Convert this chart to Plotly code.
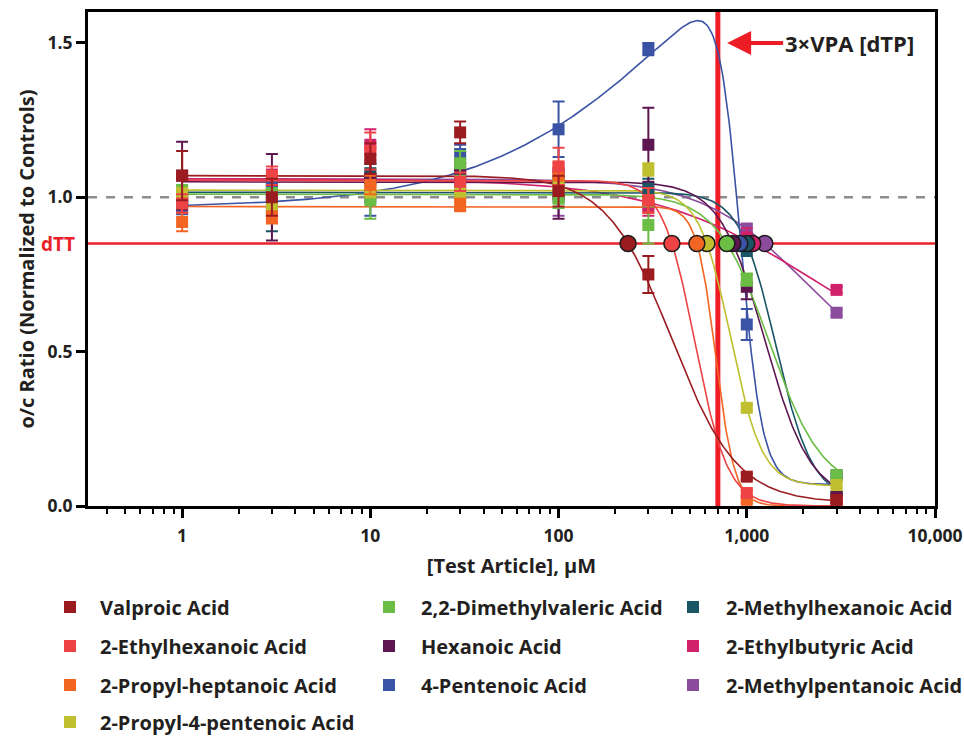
import numpy as np
import plotly.graph_objects as go

# ---------------- data ----------------
conc = [1, 3, 10, 30, 100, 300, 1000, 3000]

names = ["Valproic Acid", "2-Ethylhexanoic Acid", "2-Propyl-heptanoic Acid",
         "2-Propyl-4-pentenoic Acid", "2,2-Dimethylvaleric Acid", "Hexanoic Acid",
         "4-Pentenoic Acid", "2-Methylhexanoic Acid", "2-Ethylbutyric Acid",
         "2-Methylpentanoic Acid"]
colors = ["#9B1C20", "#EE4344", "#F26522", "#BFBF30", "#6BBD45", "#5E1650",
          "#3A53A4", "#1A5566", "#D2216B", "#8B4C9D"]

valproic = [1.07, 1.00, 1.125, 1.21, 1.02, 0.75, 0.095, 0.02]
ethylhexanoic = [0.98, 1.07, 1.15, 1.05, 1.10, 0.99, 0.042, 0.005]
propylheptanoic = [0.92, 0.935, 1.04, 0.975, 1.07, 0.99, 0.02, 0.01]
propylpentenoic = [1.01, 0.965, 1.02, 1.01, 1.04, 1.09, 0.318, 0.068]
dimethylvaleric = [1.02, 1.01, 0.99, 1.11, 0.995, 0.91, 0.733, 0.10]
hexanoic = [1.07, 1.00, 1.06, 1.08, 1.01, 1.17, 0.71, 0.03]
pentenoic = [0.965, 1.03, 1.00, 1.14, 1.22, 1.48, 0.588, 0.10]
methylhexanoic = [0.99, 0.97, 1.078, 1.035, 1.05, 1.03, 0.83, 0.03]
ethylbutyric = [1.00, 1.06, 1.17, 1.09, 1.08, 0.97, 0.87, 0.70]
methylpentanoic = [1.00, 1.02, 1.05, 1.06, 1.00, 0.99, 0.895, 0.626]

valproic_sd = [0.08, 0.06, 0.05, 0.035, 0.05, 0.06, 0.01, 0.01]
ethylhexanoic_sd = [0.03, 0.03, 0.06, 0.03, 0.06, 0.04, 0.01, 0.005]
propylheptanoic_sd = [0.03, 0.02, 0.03, 0.02, 0.03, 0.04, 0.01, 0.005]
propylpentenoic_sd = [0.02, 0.02, 0.02, 0.02, 0.02, 0.02, 0.01, 0.01]
dimethylvaleric_sd = [0.02, 0.02, 0.06, 0.04, 0.03, 0.06, 0.02, 0.01]
hexanoic_sd = [0.11, 0.14, 0.05, 0.03, 0.08, 0.12, 0.04, 0.01]
pentenoic_sd = [0.02, 0.03, 0.06, 0.03, 0.09, 0.02, 0.05, 0.005]
methylhexanoic_sd = [0.02, 0.08, 0.03, 0.03, 0.03, 0.03, 0.02, 0.01]
ethylbutyric_sd = [0.02, 0.03, 0.05, 0.03, 0.03, 0.03, 0.03, 0.01]
methylpentanoic_sd = [0.02, 0.02, 0.03, 0.03, 0.06, 0.03, 0.02, 0.01]

# concentration at which each fitted curve crosses the dTT level
dtt_conc = [234, 400, 543, 614, 784, 843, 918, 1000, 1075, 1247]

# four-parameter logistic fit parameters (top, bottom, Hill slope)
fit_top = [1.07, 1.055, 0.97, 1.023, 1.01, 1.05, None, 1.016, 1.06, 1.06]
fit_bottom = [0.01, 0.0, 0.0, 0.065, 0.05, 0.02, None, 0.02, 0.4, 0.4]
fit_hill = [2.5, 5.0, 8.5, 5.2, 3.1, 3.6, None, 4.5, 1.0, 1.6]
# bell-shaped fit for 4-Pentenoic Acid: plateau, peak, logEC50 rise, slope, logIC50 fall, slope, bottom
bell_params = [0.965, 2.2, 2.7, 0.8, 2.961, 7.5, 0.07]

DTT_LEVEL = 0.85
CONTROL_LEVEL = 1.0

series = [valproic, ethylhexanoic, propylheptanoic, propylpentenoic, dimethylvaleric,
          hexanoic, pentenoic, methylhexanoic, ethylbutyric, methylpentanoic]
series_sd = [valproic_sd, ethylhexanoic_sd, propylheptanoic_sd, propylpentenoic_sd,
             dimethylvaleric_sd, hexanoic_sd, pentenoic_sd, methylhexanoic_sd,
             ethylbutyric_sd, methylpentanoic_sd]
legend_column = [0, 0, 0, 0, 1, 1, 1, 2, 2, 2]
legend_row = [0, 1, 2, 3, 0, 1, 2, 0, 1, 2]


def four_pl(x, top, bottom, hill, x_dtt):
    k = (top - bottom) / (DTT_LEVEL - bottom) - 1
    ic50 = x_dtt / k ** (1 / hill)
    return bottom + (top - bottom) / (1 + (x / ic50) ** hill)


def bell(x, p1, peak, le1, h1, le2, h2, bottom):
    lx = np.log10(x)
    rise = p1 + (peak - p1) / (1 + 10 ** ((le1 - lx) * h1))
    fall = 1 / (1 + 10 ** ((lx - le2) * h2))
    return rise * fall + bottom * (1 - fall)


x_curve = np.logspace(0, np.log10(max(conc)), 500)

FONT = "Open Sans"
TXT = "#231F20"
RED = "#E8212A"

W, H = 964, 737
ML, MR, MT, MB = 88, 29, 12, 231
PW, PH = W - ML - MR, H - MT - MB


def px_to_paper_x(px):
    return (px - ML) / PW


def px_to_paper_y(py):
    return (H - MB - py) / PH


fig = go.Figure()
order = list(range(len(names)))[::-1]   # first series drawn last (on top)

# fitted curves
for i in order:
    if fit_top[i] is None:
        y_curve = bell(x_curve, *bell_params)
    else:
        y_curve = four_pl(x_curve, fit_top[i], fit_bottom[i], fit_hill[i], dtt_conc[i])
    fig.add_trace(go.Scatter(x=x_curve, y=y_curve, mode="lines",
                             line=dict(color=colors[i], width=1.6),
                             showlegend=False, hoverinfo="skip"))

# data points with error bars
for i in order:
    fig.add_trace(go.Scatter(
        x=conc, y=series[i], mode="markers", name=names[i],
        marker=dict(symbol="square", size=12, color=colors[i]),
        error_y=dict(type="data", array=series_sd[i], color=colors[i],
                     thickness=2, width=6),
        showlegend=False))

# dTT crossing circles
for i in order:
    fig.add_trace(go.Scatter(
        x=[dtt_conc[i]], y=[DTT_LEVEL], mode="markers",
        marker=dict(symbol="circle", size=16, color=colors[i],
                    line=dict(color="#1A1A1A", width=1.5)),
        showlegend=False, hoverinfo="skip"))

vline_x = 3 * dtt_conc[0]

fig.add_hline(y=CONTROL_LEVEL, line=dict(color="#8C8C8C", width=2.5, dash="dash"), layer="below")
fig.add_hline(y=DTT_LEVEL, line=dict(color=RED, width=2.5), layer="below")
fig.add_vline(x=vline_x, line=dict(color="#EE1C25", width=5), layer="below")

fig.add_annotation(x=np.log10(vline_x * 1.12), y=1.5, xref="x", yref="y",
                   text="3×VPA [dTP]", showarrow=True, arrowhead=2, arrowsize=1.2,
                   arrowwidth=4, arrowcolor="#EE1C25", ax=56, ay=0,
                   xanchor="left", font=dict(family=FONT, size=22, color=TXT, weight="bold"))
fig.add_annotation(x=0, y=DTT_LEVEL, xref="paper", yref="y", text="dTT",
                   showarrow=False, xanchor="right", xshift=-11,
                   font=dict(family=FONT, size=19, color=RED, weight="bold"))

# legend (three columns)
leg_marker_x = [70, 389, 693]
leg_text_x = [98, 419, 724]
leg_row_y = [607, 646, 685, 722]
half = 6
for i, name in enumerate(names):
    cx = leg_marker_x[legend_column[i]]
    cy = leg_row_y[legend_row[i]]
    fig.add_shape(type="rect", xref="paper", yref="paper",
                  x0=px_to_paper_x(cx - half), x1=px_to_paper_x(cx + half),
                  y0=px_to_paper_y(cy + half), y1=px_to_paper_y(cy - half),
                  fillcolor=colors[i], line=dict(width=0))
    fig.add_annotation(x=px_to_paper_x(leg_text_x[legend_column[i]]), y=px_to_paper_y(cy),
                       xref="paper", yref="paper", text=name, showarrow=False,
                       xanchor="left", yanchor="middle",
                       font=dict(family=FONT, size=20, color=TXT, weight="bold"))

axis_common = dict(showline=True, linecolor="black", linewidth=3, mirror=True,
                   showgrid=False, zeroline=False, ticks="outside", tickwidth=2.5,
                   ticklen=9, tickcolor="black",
                   tickfont=dict(family=FONT, size=17.5, color=TXT, weight="bold"))

fig.update_xaxes(type="log", range=[-0.5, 4], dtick=1, tickformat=",",
                 ticklabelstandoff=3,
                 minor=dict(ticks="outside", ticklen=5, tickwidth=2, tickcolor="black",
                            dtick="D1", showgrid=False),
                 title=dict(text="[Test Article], μM", standoff=13,
                            font=dict(family=FONT, size=20, color=TXT, weight="bold")),
                 **axis_common)
fig.update_yaxes(range=[0, 1.6], tickvals=[0, 0.5, 1.0, 1.5], tickformat=".1f",
                 title=dict(text="o/c Ratio (Normalized to Controls)", standoff=8,
                            font=dict(family=FONT, size=20, color=TXT, weight="bold")),
                 **axis_common)

fig.update_layout(
    width=W, height=H,
    margin=dict(l=ML, r=MR, t=MT, b=MB, autoexpand=False),
    paper_bgcolor="white", plot_bgcolor="white",
    showlegend=False,
)

fig.write_html("out.html", config={"displayModeBar": False},
               post_script="document.body.style.margin='0px';")
